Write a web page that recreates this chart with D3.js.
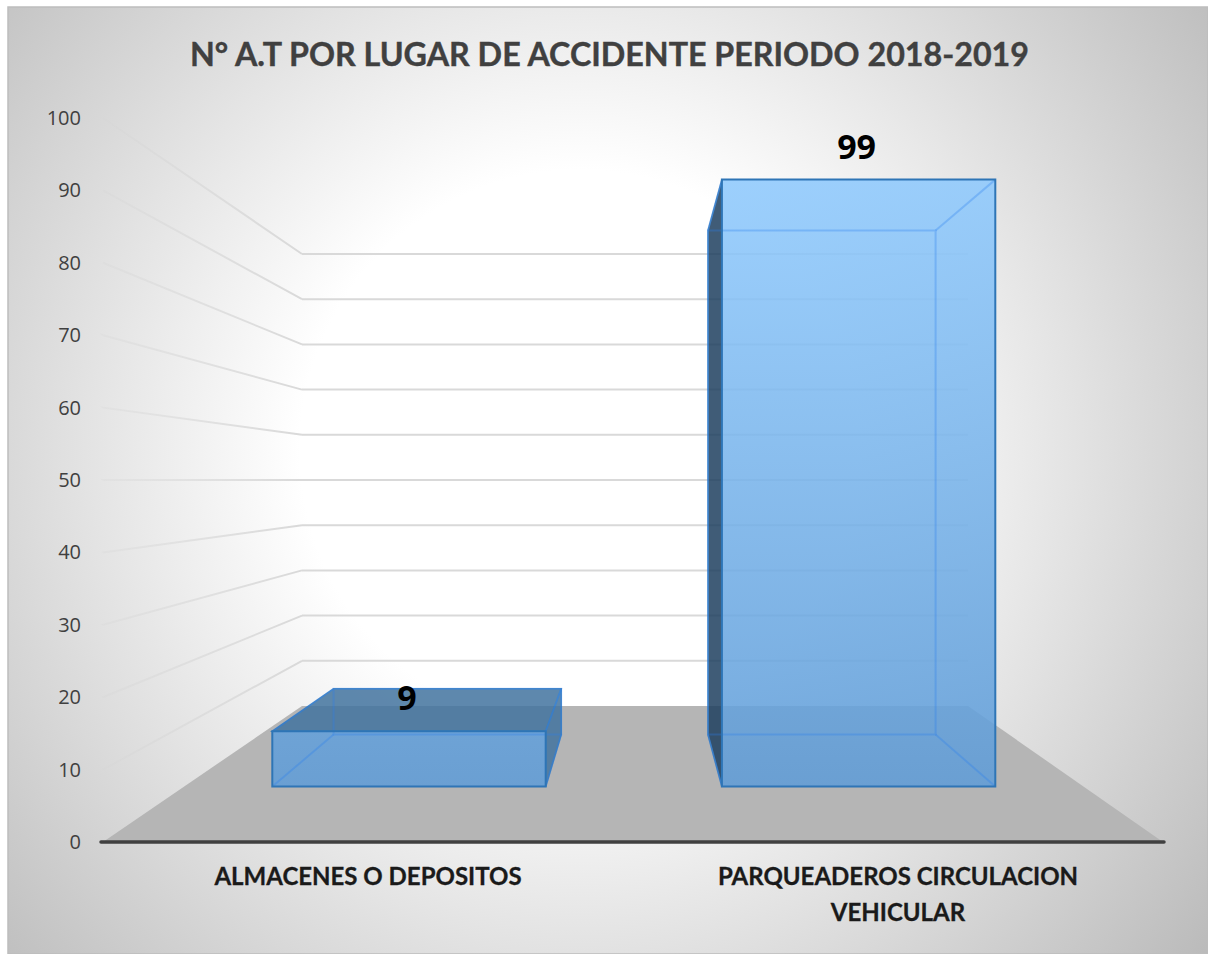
<!DOCTYPE html>
<html>
<head>
<meta charset="utf-8">
<script src="https://cdnjs.cloudflare.com/ajax/libs/d3/7.8.5/d3.min.js"></script>
<style>
html,body{margin:0;padding:0;background:#fff;overflow:hidden}
svg{display:block}
text{font-family:Lato,"Open Sans",sans-serif}
</style>
</head>
<body>
<div id="chart"></div>
<script>
const chartTitle = "N° A.T POR LUGAR DE ACCIDENTE PERIODO 2018-2019";
const categories = ["ALMACENES O DEPOSITOS", "PARQUEADEROS CIRCULACION VEHICULAR"];
const categoryLines = [["ALMACENES O DEPOSITOS"], ["PARQUEADEROS CIRCULACION", "VEHICULAR"]];
const values = [9, 99];
const valueTicks = [0, 10, 20, 30, 40, 50, 60, 70, 80, 90, 100];

const W = 1208, H = 954;
const digitFont = "'Open Sans',Lato,sans-serif";
const svg = d3.select("#chart").append("svg").attr("width", W).attr("height", H);
const defs = svg.append("defs");

// perspective model: depth 0 = front plane of the floor, depth 1 = back wall
const xLeft = d3.scaleLinear().domain([0, 1]).range([103, 302]);
const xRight = d3.scaleLinear().domain([0, 1]).range([1163, 968]);
const yBase = d3.scaleLinear().domain([0, 1]).range([842, 706]);
const yUnit = d3.scaleLinear().domain([0, 1]).range([7.24, 4.52]);
const band = d3.scaleBand().domain(categories).range([0, 1]).paddingInner(0.392).paddingOuter(0.196);
const barFront = 0.408, barBack = 0.79;

const px = (u, t) => xLeft(t) + (xRight(t) - xLeft(t)) * u;
const py = (v, t) => yBase(t) - yUnit(t) * v;
const P = (u, v, t) => [px(u, t), py(v, t)];
const poly = pts => "M" + pts.map(p => p.map(n => n.toFixed(1)).join(",")).join("L") + "Z";

// background
const bg = defs.append("radialGradient").attr("id", "bg").attr("gradientUnits", "userSpaceOnUse")
  .attr("cx", 580).attr("cy", 450).attr("r", 1000);
bg.append("stop").attr("offset", 0).attr("stop-color", "#fff");
bg.append("stop").attr("offset", 0.28).attr("stop-color", "#fff");
bg.append("stop").attr("offset", 1).attr("stop-color", "#a1a1a1");
svg.append("rect").attr("x", 8).attr("y", 7).attr("width", W - 8).attr("height", H - 7)
  .attr("fill", "url(#bg)").attr("stroke", "#bdbdbd").attr("stroke-width", 1.5);

// title
svg.append("text").attr("x", 609.5).attr("y", 66).attr("text-anchor", "middle")
  .attr("font-size", 33).attr("font-weight", 700).attr("fill", "#404040")
  .attr("stroke", "#404040").attr("stroke-width", 0.4)
  .attr("textLength", 839).attr("lengthAdjust", "spacingAndGlyphs").text(chartTitle);

// floor
svg.append("path").attr("d", poly([P(0,0,0), P(1,0,0), P(1,0,1), P(0,0,1)])).attr("fill", "#b5b5b5");

// grid: back wall and fading left wall
const fade = defs.append("linearGradient").attr("id", "fade").attr("gradientUnits", "userSpaceOnUse")
  .attr("x1", xLeft(1)).attr("x2", xLeft(0)).attr("y1", 0).attr("y2", 0);
fade.append("stop").attr("offset", 0).attr("stop-color", "#d9d9d9");
fade.append("stop").attr("offset", 1).attr("stop-color", "#d4d4d4").attr("stop-opacity", 0.25);

const gridTicks = valueTicks.filter(v => v > 0);
svg.append("g").selectAll("line").data(gridTicks).join("line")
  .attr("x1", xLeft(1)).attr("x2", xRight(1))
  .attr("y1", v => py(v, 1)).attr("y2", v => py(v, 1))
  .attr("stroke", "#d9d9d9").attr("stroke-width", 2);
svg.append("g").selectAll("path").data(gridTicks).join("path")
  .attr("d", v => "M" + P(0, v, 1).join(",") + "L" + P(0, v, 0).join(",") + "l0.01,0.01")
  .attr("fill", "none").attr("stroke", "url(#fade)").attr("stroke-width", 2);

// floor front edge
svg.append("line").attr("x1", xLeft(0) - 2).attr("x2", xRight(0) + 1)
  .attr("y1", yBase(0)).attr("y2", yBase(0))
  .attr("stroke", "#404040").attr("stroke-width", 3.5).attr("stroke-linecap", "round");

// value axis
const yAxisScale = d3.scaleLinear().domain([0, 100]).range([py(0, 0), py(100, 0)]);
const yAxis = svg.append("g").attr("transform", "translate(91,0)")
  .call(d3.axisLeft(yAxisScale).tickValues(valueTicks).tickSize(0).tickPadding(10));
yAxis.select(".domain").remove();
yAxis.selectAll("text").attr("font-size", 20).attr("fill", "#404040")
  .style("font-family", digitFont);

// bars
const frontFill = defs.append("linearGradient").attr("id", "frontFill").attr("gradientUnits", "userSpaceOnUse")
  .attr("x1", 0).attr("x2", 0).attr("y1", py(99, barFront)).attr("y2", yBase(barFront));
frontFill.append("stop").attr("offset", 0).attr("stop-color", "#8ec9fd").attr("stop-opacity", 0.87);
frontFill.append("stop").attr("offset", 1).attr("stop-color", "#5f9cd7").attr("stop-opacity", 0.87);

const bars = svg.append("g").selectAll("g").data(categories.map((c, i) => ({c, v: values[i]}))).join("g");
bars.each(function(d) {
  const g = d3.select(this);
  const u0 = band(d.c), u1 = u0 + band.bandwidth();
  const f = [P(u0,0,barFront), P(u1,0,barFront), P(u1,d.v,barFront), P(u0,d.v,barFront)];
  const b = [P(u0,0,barBack), P(u1,0,barBack), P(u1,d.v,barBack), P(u0,d.v,barBack)];
  const side = "#1f4060", top = "#43749f", edge = "#2e75b6";
  // only faces that stick out of the front rectangle read as dark
  const faces = g.append("g").attr("opacity", 0.85).attr("stroke", edge).attr("stroke-width", 1.5);
  if (b[3][1] < f[3][1]) faces.append("path").attr("d", poly([f[3], f[2], b[2], b[3]])).attr("fill", top);
  if (b[0][0] < f[0][0]) faces.append("path").attr("d", poly([f[0], f[3], b[3], b[0]])).attr("fill", side);
  if (b[1][0] > f[1][0]) faces.append("path").attr("d", poly([f[1], f[2], b[2], b[1]])).attr("fill", top);
  g.append("path").attr("d", poly(f)).attr("fill", "url(#frontFill)");
  // back edges seen through the translucent front
  const inner = g.append("g").attr("fill", "none").attr("stroke", "#287fed").attr("stroke-opacity", 0.3).attr("stroke-width", 2);
  inner.append("path").attr("d", poly(b));
  [0, 1, 2, 3].forEach(k => inner.append("line")
    .attr("x1", f[k][0]).attr("y1", f[k][1]).attr("x2", b[k][0]).attr("y2", b[k][1]));
  // visible outline
  g.append("path").attr("d", poly(f)).attr("fill", "none").attr("stroke", edge).attr("stroke-width", 2);
  // data label
  g.append("text").attr("x", (f[0][0] + f[1][0]) / 2 - 2).attr("y", f[3][1] - 21)
    .attr("text-anchor", "middle").attr("font-size", 34).attr("font-weight", 700).attr("fill", "#000")
    .style("font-family", digitFont).text(d.v);
});

// category labels
const catLabels = svg.append("g").selectAll("text").data(categories).join("text")
  .attr("text-anchor", "middle").attr("font-size", 24).attr("font-weight", 700).attr("fill", "#1a1a1a")
  .attr("stroke", "#1a1a1a").attr("stroke-width", 0.3);
catLabels.each(function(c, i) {
  const cx = px(band(c) + band.bandwidth() / 2, 0);
  d3.select(this).selectAll("tspan").data(categoryLines[i]).join("tspan")
    .attr("x", cx).attr("y", (l, k) => 885 + k * 36).text(l => l);
});
</script>
</body>
</html>
